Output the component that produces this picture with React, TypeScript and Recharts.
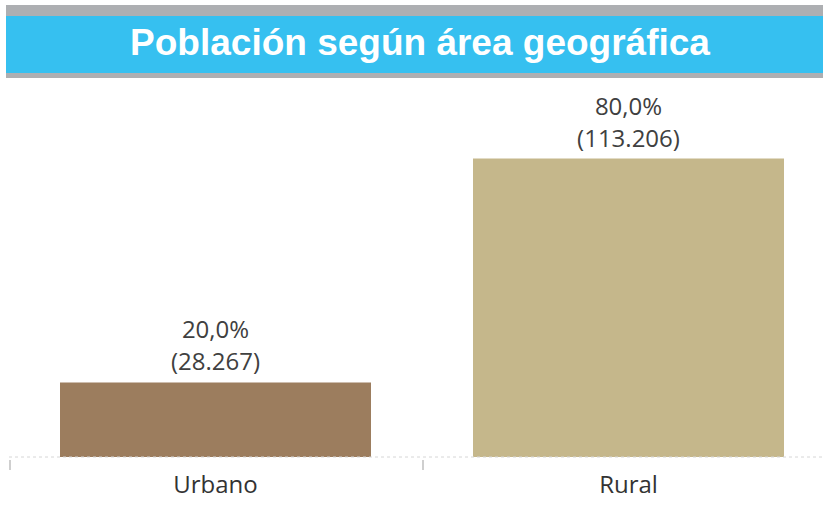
import { Bar, BarChart, Cell, LabelList, XAxis, YAxis } from 'recharts'

const categories = ['Urbano', 'Rural']
const population = [28267, 113206]
const shares = [20.0, 80.0]
const barColors = ['#9C7D5E', '#C5B78B']

const rows = categories.map((name, i) => ({ name, population: population[i], share: shares[i] }))

const fmtCount = (n: number) => String(n).replace(/\B(?=(\d{3})+(?!\d))/g, '.')
const fmtShare = (n: number) => `${n.toFixed(1).replace('.', ',')}%`

const labelFont = "'Open Sans', 'DejaVu Sans', sans-serif"

function CategoryTick({ x, y, payload }: any) {
  const half = payload?.offset ?? 206
  return (
    <g>
      <line x1={x - half + 1} x2={x - half + 1} y1={y - 5} y2={y + 5} stroke="#cfcfcf" strokeWidth={2} />
      <text x={x} y={y} dy={28} textAnchor="middle" fontSize={24} fontFamily={labelFont} fill="#333333">
        {payload.value}
      </text>
    </g>
  )
}

function ValueLabel({ x, y, width, index }: any) {
  const cx = Number(x) + Number(width) / 2
  const row = rows[index]
  return (
    <g fontFamily={labelFont} fontSize={24} fill="#404040" textAnchor="middle">
      <text x={cx} y={Number(y) - 44}>{fmtShare(row.share)}</text>
      <text x={cx} y={Number(y) - 12}>({fmtCount(row.population)})</text>
    </g>
  )
}

export default function App() {
  return (
    <div style={{ position: 'absolute', left: 0, top: 0, width: 823, height: 507, overflow: 'hidden', background: '#fff' }}>
      <div
        style={{
          position: 'absolute',
          left: 6,
          top: 5,
          width: 828,
          height: 73,
          background: '#ADAFB2',
        }}
      >
        <div
          style={{
            position: 'absolute',
            left: 0,
            right: 0,
            top: 11,
            height: 57,
            background: '#36C0F0',
            color: '#fff',
            fontFamily: "'Liberation Sans', Arial, sans-serif",
            fontWeight: 700,
            fontSize: 37,
            lineHeight: '54px',
            textAlign: 'center',
            whiteSpace: 'nowrap',
          }}
        >
          Población según área geográfica
        </div>
      </div>
      <div style={{ position: 'absolute', left: 0, top: 0 }}>
        <BarChart width={835} height={507} data={rows} margin={{ top: 80, right: 0, left: 9, bottom: 0 }} barSize={311}>
          <XAxis
            dataKey="name"
            height={50}
            tickLine={false}
            axisLine={{ stroke: '#d6d6d6', strokeDasharray: '3 3' }}
            tick={<CategoryTick />}
            interval={0}
          />
          <YAxis hide domain={[0, 143000]} />
          <Bar dataKey="population" isAnimationActive={false}>
            {rows.map((row, i) => (
              <Cell key={row.name} fill={barColors[i]} />
            ))}
            <LabelList dataKey="population" content={<ValueLabel />} />
          </Bar>
        </BarChart>
      </div>
    </div>
  )
}
